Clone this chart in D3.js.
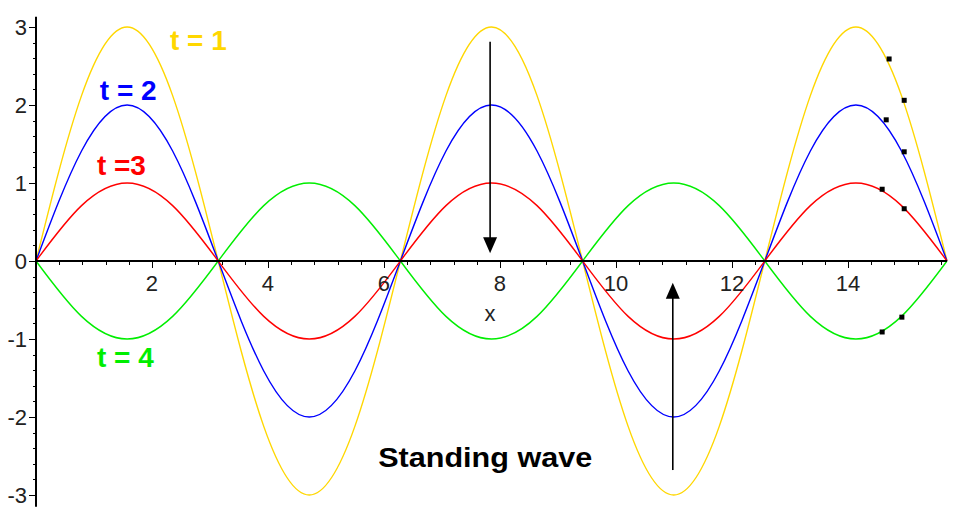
<!DOCTYPE html>
<html>
<head>
<meta charset="utf-8">
<script src="https://cdn.jsdelivr.net/npm/d3@7"></script>
<style>
  html, body { margin: 0; padding: 0; background: #fff; }
  svg { display: block; }
</style>
</head>
<body>
<svg id="chart" width="964" height="524"></svg>
<script>
// ---- data ----
const xs = [0, 0.785, 1.571, 2.356, 3.142, 3.927, 4.712, 5.498, 6.283, 7.069, 7.854,
            8.639, 9.425, 10.21, 10.996, 11.781, 12.566, 13.352, 14.137, 14.923, 15.708];
const t1 = [0, 2.12, 3, 2.12, 0, -2.12, -3, -2.12, 0, 2.12, 3, 2.12, 0, -2.12, -3, -2.12, 0, 2.12, 3, 2.12, 0];
const t2 = [0, 1.41, 2, 1.41, 0, -1.41, -2, -1.41, 0, 1.41, 2, 1.41, 0, -1.41, -2, -1.41, 0, 1.41, 2, 1.41, 0];
const t3 = [0, 0.71, 1, 0.71, 0, -0.71, -1, -0.71, 0, 0.71, 1, 0.71, 0, -0.71, -1, -0.71, 0, 0.71, 1, 0.71, 0];
const t4 = [0, -0.71, -1, -0.71, 0, 0.71, 1, 0.71, 0, -0.71, -1, -0.71, 0, 0.71, 1, 0.71, 0, -0.71, -1, -0.71, 0];
const seriesNames = ["t = 4", "t = 1", "t = 2", "t =3"];
const seriesColors = ["#00ee00", "#ffd700", "#0000ff", "#ff0000"];
const seriesValues = [t4, t1, t2, t3];

// black marker points
const dotX = [14.71, 14.97, 14.66, 14.97, 14.59, 14.97, 14.59, 14.93];
const dotY = [2.59, 2.06, 1.81, 1.40, 0.92, 0.67, -0.91, -0.72];

const xTickLabels = [2, 4, 6, 8, 10, 12, 14];
const yTickLabels = [-3, -2, -1, 0, 1, 2, 3];

// labels: text, x, y (data space, left/baseline), color
const labelText = ["t = 1", "t = 2", "t =3", "t = 4"];
const labelX = [2.31, 1.10, 1.05, 1.05];
const labelY = [2.70, 2.06, 1.10, -1.36];
const labelColor = ["#ffd700", "#0000ff", "#ff0000", "#00ee00"];

// arrows: x, yFrom, yTo
const arrowX = [7.83, 10.98];
const arrowFrom = [2.81, -2.68];
const arrowTo = [0.10, -0.28];

// ---- chart ----
const svg = d3.select("#chart");
const x = d3.scaleLinear().domain([0, 15.708]).range([36, 947]);
const y = d3.scaleLinear().domain([-3, 3]).range([495, 27]);
const font = "'Liberation Sans', Arial, sans-serif";

// curves
const line = d3.line().x((d, i) => x(xs[i])).y(d => y(d)).curve(d3.curveNatural);
seriesValues.forEach((vals, k) => {
  svg.append("path").datum(vals)
    .attr("d", line)
    .attr("fill", "none")
    .attr("stroke", seriesColors[k])
    .attr("stroke-width", 1.4);
});

// x axis
const xMinor = d3.range(0, 15.71, 0.4);
svg.append("line").attr("x1", x(0)).attr("x2", x(15.708))
  .attr("y1", y(0)).attr("y2", y(0)).attr("stroke", "#000").attr("stroke-width", 2);
svg.append("g").selectAll("line").data(xMinor).join("line")
  .attr("x1", d => Math.round(x(d)) + 0.5).attr("x2", d => Math.round(x(d)) + 0.5)
  .attr("y1", y(0)).attr("y2", y(0) + 4).attr("stroke", "#000").attr("stroke-width", 1);
svg.append("g").selectAll("line").data(xTickLabels).join("line")
  .attr("x1", d => Math.round(x(d)) + 0.5).attr("x2", d => Math.round(x(d)) + 0.5)
  .attr("y1", y(0)).attr("y2", y(0) + 7).attr("stroke", "#000").attr("stroke-width", 1);
svg.append("g").selectAll("text").data(xTickLabels).join("text")
  .attr("x", d => x(d)).attr("y", y(0) + 30)
  .attr("text-anchor", "middle")
  .attr("font-family", font).attr("font-size", 22).attr("fill", "#222")
  .text(d => d);
svg.append("text").attr("x", x(7.83)).attr("y", y(0) + 60)
  .attr("text-anchor", "middle")
  .attr("font-family", font).attr("font-size", 22).attr("fill", "#222")
  .text("x");

// y axis
const yMinor = d3.range(-3, 3.01, 0.2);
svg.append("line").attr("x1", x(0)).attr("x2", x(0))
  .attr("y1", y(3.13)).attr("y2", y(-3.15)).attr("stroke", "#000").attr("stroke-width", 2);
svg.append("g").selectAll("line").data(yMinor).join("line")
  .attr("x1", x(0) - 3).attr("x2", x(0))
  .attr("y1", d => Math.round(y(d)) + 0.5).attr("y2", d => Math.round(y(d)) + 0.5)
  .attr("stroke", "#000").attr("stroke-width", 1);
svg.append("g").selectAll("line").data(yTickLabels).join("line")
  .attr("x1", x(0) - 7).attr("x2", x(0))
  .attr("y1", d => Math.round(y(d)) + 0.5).attr("y2", d => Math.round(y(d)) + 0.5)
  .attr("stroke", "#000").attr("stroke-width", 1);
svg.append("g").selectAll("text").data(yTickLabels).join("text")
  .attr("x", x(0) - 9).attr("y", d => y(d) + 8)
  .attr("text-anchor", "end")
  .attr("font-family", font).attr("font-size", 22).attr("fill", "#222")
  .text(d => d < 0 ? "-" + Math.abs(d) : d);

// arrows
arrowX.forEach((ax, i) => {
  const x0 = x(ax), yA = y(arrowFrom[i]), yB = y(arrowTo[i]);
  const dir = yB > yA ? 1 : -1;
  svg.append("line").attr("x1", x0).attr("x2", x0)
    .attr("y1", yA).attr("y2", yB - dir * 8)
    .attr("stroke", "#000").attr("stroke-width", 1.6);
  svg.append("path")
    .attr("d", `M${x0 - 7},${yB - dir * 16} L${x0 + 7},${yB - dir * 16} L${x0},${yB} Z`)
    .attr("fill", "#000");
});

// marker dots
svg.append("g").selectAll("rect").data(dotX).join("rect")
  .attr("x", (d, i) => x(d) - 2.5).attr("y", (d, i) => y(dotY[i]) - 2.5)
  .attr("width", 5).attr("height", 5).attr("fill", "#000");

// labels
labelText.forEach((t, i) => {
  svg.append("text").attr("x", x(labelX[i])).attr("y", y(labelY[i]))
    .attr("font-family", font).attr("font-size", 28).attr("font-weight", "bold")
    .attr("fill", labelColor[i]).text(t);
});
svg.append("text").attr("x", x(5.90)).attr("y", y(-2.64))
  .attr("font-family", font).attr("font-size", 27).attr("font-weight", "bold")
  .attr("fill", "#000").attr("textLength", 214).attr("lengthAdjust", "spacingAndGlyphs")
  .text("Standing wave");
</script>
</body>
</html>
